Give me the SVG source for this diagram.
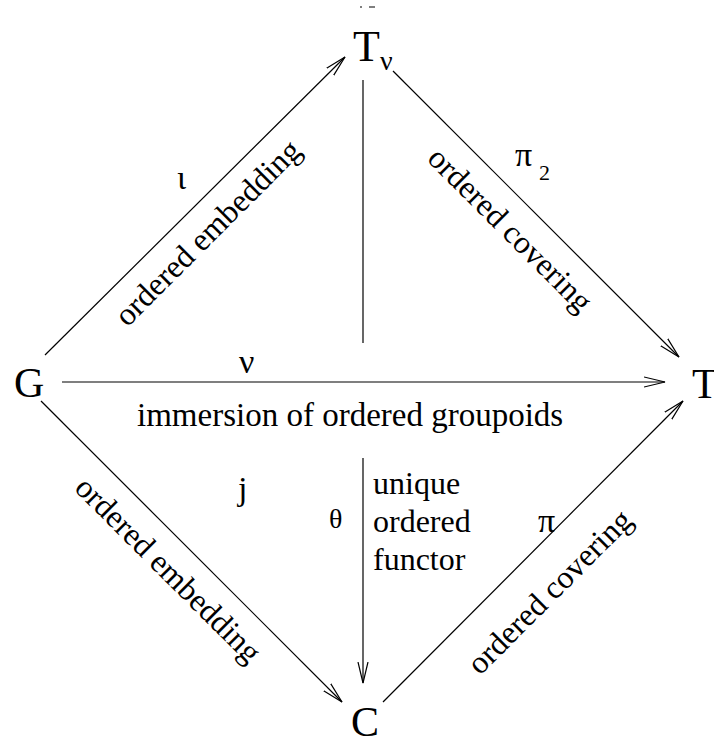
<svg xmlns="http://www.w3.org/2000/svg" width="714" height="740" viewBox="0 0 714 740">
<style>
.node{font-family:"Liberation Serif","Times New Roman",serif;font-size:42px;fill:#000}
.lbl{font-family:"Liberation Serif","Times New Roman",serif;font-size:32px;fill:#000}
.gr{font-family:"Liberation Serif","DejaVu Serif",serif;font-size:34px;fill:#000}
.ln{stroke:#000;stroke-width:1.2;fill:none}
</style>
<defs>
<marker id="ah" markerUnits="userSpaceOnUse" viewBox="0 0 22 12" refX="21" refY="6" markerWidth="22" markerHeight="12" orient="auto">
<path d="M0,1 L21,6 L0,11" fill="none" stroke="#000" stroke-width="1.2"/>
</marker>
</defs>
<rect width="714" height="740" fill="#fff"/>
<g id="connectors">
<line class="ln" x1="45" y1="355" x2="345" y2="57" marker-end="url(#ah)"/>
<line class="ln" x1="393" y1="71" x2="679" y2="357" marker-end="url(#ah)"/>
<line class="ln" x1="62" y1="382" x2="665" y2="382" marker-end="url(#ah)"/>
<line class="ln" x1="41" y1="401" x2="342" y2="702" marker-end="url(#ah)"/>
<line class="ln" x1="383" y1="702" x2="683" y2="401" marker-end="url(#ah)"/>
<line class="ln" x1="363" y1="80" x2="363" y2="343"/>
<line class="ln" x1="363" y1="458" x2="363" y2="683" marker-end="url(#ah)"/>
<path class="ln" d="M360,7 L362,7 M369,7 L375,7"/>
</g>
<g id="node-Tnu"><text class="node" x="353" y="61" style="font-size:44px">T</text><text class="gr" x="380" y="70" style="font-size:28px">ν</text></g>
<g id="node-G"><text class="node" x="14" y="397">G</text></g>
<g id="node-T"><text class="node" x="692" y="398">T</text></g>
<g id="node-C"><text class="node" x="351" y="736">C</text></g>
<g id="labels">
<text class="gr" x="177" y="189">ι</text>
<g transform="translate(208,233) rotate(-45)"><text class="lbl" x="0" y="10" text-anchor="middle">ordered embedding</text></g>
<text class="gr" x="515" y="166">π</text><text class="lbl" x="539" y="180" style="font-size:22px">2</text>
<g transform="translate(510,230) rotate(45)"><text class="lbl" x="0" y="10" text-anchor="middle">ordered covering</text></g>
<text class="gr" x="239" y="373">ν</text>
<text class="lbl" x="137" y="426" style="font-size:33px">immersion of ordered groupoids</text>
<text class="gr" x="238" y="500">j</text>
<g transform="translate(168,570) rotate(45)"><text class="lbl" x="0" y="10" text-anchor="middle">ordered embedding</text></g>
<text class="gr" x="329" y="528" style="font-size:28px">θ</text>
<text class="lbl" x="373" y="494">unique</text>
<text class="lbl" x="373" y="532">ordered</text>
<text class="lbl" x="373" y="570">functor</text>
<text class="gr" x="538" y="532">π</text>
<g transform="translate(550,592) rotate(-45)"><text class="lbl" x="0" y="10" text-anchor="middle">ordered covering</text></g>
</g>
</svg>
